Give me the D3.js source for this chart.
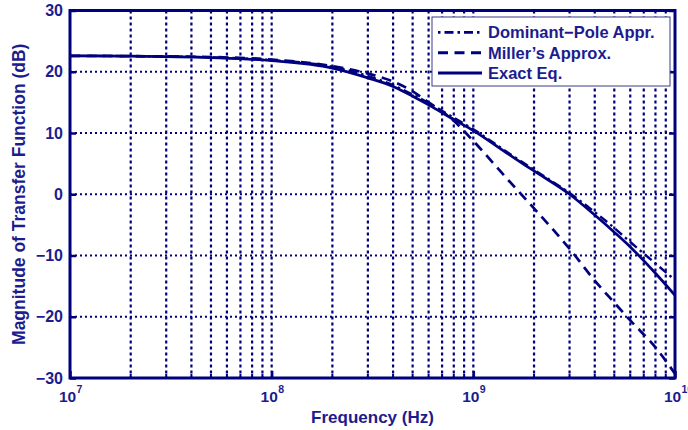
<!DOCTYPE html>
<html>
<head>
<meta charset="utf-8">
<script src="https://cdn.jsdelivr.net/npm/d3@7"></script>
<style>
  body { margin: 0; background: #fff; }
  #chart { width: 688px; height: 430px; }
  text { font-family: "Liberation Sans", Arial, sans-serif; font-weight: bold; fill: #1c1c8e; }
</style>
</head>
<body>
<div id="chart"></div>
<script>
const freqs = [1e7, 2e7, 5e7, 1e8, 2e8, 3e8, 4e8, 5e8, 6e8, 8e8, 1e9, 1.5e9, 2e9, 3e9, 4e9, 5e9, 6e9, 8e9, 1e10];
const dominantPole = [22.6, 22.55, 22.35, 21.9, 20.8, 19.3, 17.8, 16.3, 14.9, 12.5, 10.6, 6.7, 4.0, 0.2, -2.9, -5.5, -7.8, -11.3, -14.0];
const millers = [22.6, 22.55, 22.4, 22.0, 20.9, 19.7, 18.4, 16.8, 15.0, 12.0, 8.7, 2.2, -2.3, -8.9, -14.1, -17.7, -20.6, -25.0, -29.3];
const exact = [22.6, 22.55, 22.3, 21.8, 20.6, 19.0, 17.6, 16.0, 14.6, 12.2, 10.4, 6.5, 3.8, 0.0, -3.4, -6.2, -8.6, -12.9, -16.5];

const yTicks = [-30, -20, -10, 0, 10, 20, 30];
const xDecades = [1e7, 1e8, 1e9, 1e10];
const seriesNames = ["Dominant\u2212Pole Appr.", "Miller\u2019s Approx.", "Exact Eq."];

const navy = "#00007f";
const margin = { left: 70, right: 13, top: 10.5, bottom: 52 };
const width = 688, height = 430;
const innerWidth = width - margin.left - margin.right;
const innerHeight = height - margin.top - margin.bottom;

const svg = d3.select("#chart").append("svg")
  .attr("width", width)
  .attr("height", height);

const g = svg.append("g")
  .attr("transform", `translate(${margin.left},${margin.top})`);

const xScale = d3.scaleLog().domain([1e7, 1e10]).range([0, innerWidth]);
const yScale = d3.scaleLinear().domain([-30, 30]).range([innerHeight, 0]);

// minor grid positions: 1..9 x each decade
const gridX = [];
xDecades.slice(0, 3).forEach(d => {
  for (let k = 1; k <= 9; k++) gridX.push(d * k);
});
const innerGridX = gridX.filter(f => f > 1e7 && f < 1e10);

// vertical dotted grid
g.append("g").selectAll("line")
  .data(innerGridX)
  .join("line")
  .attr("x1", d => xScale(d)).attr("x2", d => xScale(d))
  .attr("y1", 0).attr("y2", innerHeight)
  .attr("stroke", navy)
  .attr("stroke-width", 2.2)
  .attr("stroke-dasharray", "3,3");

// horizontal dotted grid
g.append("g").selectAll("line")
  .data(yTicks.filter(t => t > -30 && t < 30))
  .join("line")
  .attr("x1", 0).attr("x2", innerWidth)
  .attr("y1", d => yScale(d)).attr("y2", d => yScale(d))
  .attr("stroke", navy)
  .attr("stroke-width", 2)
  .attr("stroke-dasharray", "2,3");

// curves
const line = d3.line()
  .x((d, i) => xScale(freqs[i]))
  .y(d => yScale(d))
  .curve(d3.curveMonotoneX);

const series = [
  { name: seriesNames[0], values: dominantPole, dash: "2.5,4,9,4", w: 2.4 },
  { name: seriesNames[1], values: millers, dash: "10,6.5", w: 2.7 },
  { name: seriesNames[2], values: exact, dash: null, w: 2.7 },
];

g.append("g").selectAll("path")
  .data(series)
  .join("path")
  .attr("d", d => line(d.values))
  .attr("fill", "none")
  .attr("stroke", navy)
  .attr("stroke-width", d => d.w)
  .attr("stroke-dasharray", d => d.dash);

// y axis
const yAxis = d3.axisLeft(yScale)
  .tickValues(yTicks)
  .tickSizeInner(-6)
  .tickSizeOuter(0)
  .tickPadding(7)
  .tickFormat(d => d < 0 ? "\u2212" + Math.abs(d) : d);
const yG = g.append("g").call(yAxis);
yG.selectAll("text").attr("font-size", 16).style("fill", "#1c1c8e");

// right side ticks
g.append("g")
  .attr("transform", `translate(${innerWidth},0)`)
  .call(d3.axisRight(yScale).tickValues(yTicks).tickSizeInner(-6).tickSizeOuter(0).tickFormat(""));

// x axis
const xAxis = d3.axisBottom(xScale)
  .tickValues(xDecades)
  .tickSizeInner(-7)
  .tickSizeOuter(0)
  .tickFormat("");
const xG = g.append("g")
  .attr("transform", `translate(0,${innerHeight})`)
  .call(xAxis);

// drop the empty labels the axes made, then add 10^n labels
g.selectAll(".tick text").filter(function () { return this.textContent === ""; }).remove();

xG.selectAll(".tick").append("text")
  .attr("x", -3)
  .attr("y", 24)
  .attr("text-anchor", "middle")
  .attr("font-size", 15.5)
  .text("10");
xG.selectAll(".tick").append("text")
  .attr("x", 6)
  .attr("y", 15)
  .attr("text-anchor", "start")
  .attr("font-size", 10.5)
  .text(d => Math.round(Math.log10(d)));

// minor ticks on bottom
g.append("g").selectAll("line")
  .data(innerGridX)
  .join("line")
  .attr("x1", d => xScale(d)).attr("x2", d => xScale(d))
  .attr("y1", innerHeight).attr("y2", innerHeight - 4)
  .attr("stroke", navy).attr("stroke-width", 2);

g.selectAll(".domain").remove();
g.selectAll(".tick line").attr("stroke", navy).attr("stroke-width", 2.5);

// axes box
g.append("rect")
  .attr("width", innerWidth)
  .attr("height", innerHeight)
  .attr("fill", "none")
  .attr("stroke", navy)
  .attr("stroke-width", 3);

// axis titles
svg.append("text")
  .attr("x", margin.left + innerWidth / 2)
  .attr("y", 423)
  .attr("text-anchor", "middle")
  .attr("font-size", 17)
  .text("Frequency (Hz)");

svg.append("text")
  .attr("transform", `translate(25,${margin.top + innerHeight / 2}) rotate(-90)`)
  .attr("text-anchor", "middle")
  .attr("font-size", 17.5)
  .text("Magnitude of Transfer Function (dB)");

// legend
const legend = svg.append("g").attr("transform", "translate(432,17)");
legend.append("rect")
  .attr("width", 238)
  .attr("height", 69)
  .attr("fill", "#fff")
  .attr("stroke", "#3a3a8a")
  .attr("stroke-width", 1);

const rows = legend.selectAll(".row")
  .data(series)
  .join("g")
  .attr("class", "row")
  .attr("transform", (d, i) => `translate(0,${15.3 + i * 20.4})`);

rows.append("line")
  .attr("x1", 6).attr("x2", 50)
  .attr("stroke", navy)
  .attr("stroke-width", d => d.w + 0.3)
  .attr("stroke-dasharray", d => d.dash);

rows.append("text")
  .attr("x", 56)
  .attr("y", 6)
  .attr("font-size", 16.5)
  .text(d => d.name);
</script>
</body>
</html>
